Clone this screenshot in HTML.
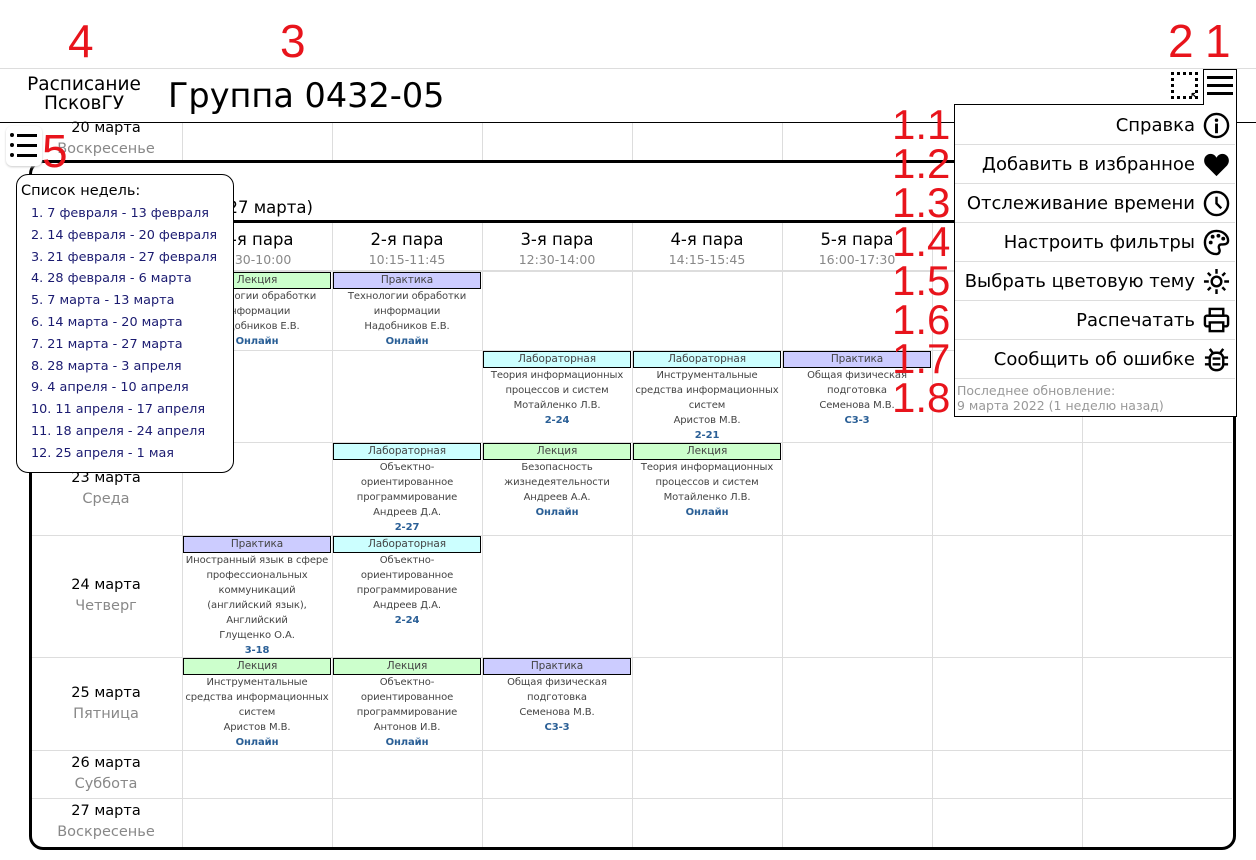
<!DOCTYPE html>
<html><head><meta charset="utf-8"><style>
*{margin:0;padding:0;box-sizing:border-box}
body{width:1256px;height:860px;overflow:hidden;background:#fff;font-family:"DejaVu Sans","Liberation Sans",sans-serif;position:relative;color:#000}
.a{position:absolute}
.red{position:absolute;color:#e8141c;font-size:46px;line-height:1;font-family:"Liberation Sans",sans-serif}
.vl{position:absolute;width:1px;background:#ddd}
.hl{position:absolute;height:1px;background:#ddd}
.cell{position:absolute;width:150px;text-align:center;font-size:10px;line-height:15px;color:#444;letter-spacing:-0.1px;white-space:nowrap}
.lab{height:17px;border:1px solid #000;font-size:10.5px;line-height:15px;color:#444;margin:0 1px 0 1px}
.lec{background:#ccffcc}.lb{background:#ccffff}.pr{background:#ccccff}
.b{color:#2a5f96;font-weight:bold}
.day{position:absolute;left:30px;width:152px;text-align:center;font-size:14.5px;line-height:21px}
.day i{font-style:normal;color:#888}
.ph{position:absolute;width:150px;text-align:center;font-size:16.5px;line-height:22px}
.ph span{display:block;font-size:12.5px;color:#888;line-height:18px}
.mi{position:absolute;left:955px;width:280px;height:39px;border-bottom:1px solid #ddd;font-size:18px;text-align:right;padding-right:40px;line-height:39px}
.ic{position:absolute;right:5px;top:6px;width:27px;height:27px}
.wk{font-size:12.8px;color:#1a1a70;line-height:21.8px;padding-left:10px}
</style></head><body>

<div class="a" style="left:0;top:68px;width:1256px;height:1px;background:#ddd"></div>
<div class="a" style="left:0;top:122px;width:1256px;height:1px;background:#000"></div>
<div class="a" style="left:10px;top:75px;width:148px;text-align:center;font-size:18.5px;line-height:19px">Расписание<br>ПсковГУ</div>
<div class="a" style="left:168px;top:74px;font-size:33.5px;line-height:44px">Группа 0432-05</div>

<div class="a" style="left:1171px;top:72px;width:27px;height:27px;border:3px dotted #000"></div>
<div class="a" style="left:1190px;top:90px;font-size:11px;font-weight:bold">↖</div>
<div class="a" style="left:1203px;top:69px;width:34px;height:36px;border:1px solid #000;border-bottom:none;background:#fff"></div>
<div class="a" style="left:1207px;top:76px;width:26px;height:3px;background:#000"></div>
<div class="a" style="left:1207px;top:84px;width:26px;height:3px;background:#000"></div>
<div class="a" style="left:1207px;top:92px;width:26px;height:3px;background:#000"></div>

<div class="day" style="top:118px">20 марта<br><i>Воскресенье</i></div>
<div class="vl" style="left:182px;top:123px;height:39px"></div>
<div class="vl" style="left:332px;top:123px;height:39px"></div>
<div class="vl" style="left:482px;top:123px;height:39px"></div>
<div class="vl" style="left:632px;top:123px;height:39px"></div>
<div class="vl" style="left:782px;top:123px;height:39px"></div>

<div class="a" style="left:29px;top:160px;width:1207px;height:690px;border:3px solid #000;border-radius:14px"></div>
<div class="a" style="left:40px;top:196px;font-size:16.5px;line-height:24px">Неделя 7 (21 марта - 27 марта)</div>
<div class="a" style="left:30px;top:220px;width:1204px;height:3px;background:#000"></div>

<div class="vl" style="left:182px;top:223px;height:624px"></div>
<div class="vl" style="left:332px;top:223px;height:624px"></div>
<div class="vl" style="left:482px;top:223px;height:624px"></div>
<div class="vl" style="left:632px;top:223px;height:624px"></div>
<div class="vl" style="left:782px;top:223px;height:624px"></div>
<div class="vl" style="left:932px;top:223px;height:624px"></div>
<div class="vl" style="left:1082px;top:223px;height:624px"></div>
<div class="hl" style="left:32px;top:270px;width:1200px;height:2px"></div>
<div class="hl" style="left:32px;top:350px;width:1200px"></div>
<div class="hl" style="left:32px;top:442px;width:1200px"></div>
<div class="hl" style="left:32px;top:535px;width:1200px"></div>
<div class="hl" style="left:32px;top:657px;width:1200px"></div>
<div class="hl" style="left:32px;top:750px;width:1200px"></div>
<div class="hl" style="left:32px;top:798px;width:1200px"></div>

<div class="ph" style="left:182px;top:229px">1-я пара<span>8:30-10:00</span></div>
<div class="ph" style="left:332px;top:229px">2-я пара<span>10:15-11:45</span></div>
<div class="ph" style="left:482px;top:229px">3-я пара<span>12:30-14:00</span></div>
<div class="ph" style="left:632px;top:229px">4-я пара<span>14:15-15:45</span></div>
<div class="ph" style="left:782px;top:229px">5-я пара<span>16:00-17:30</span></div>

<div class="day" style="top:289px">21 марта<br><i>Понедельник</i></div>
<div class="day" style="top:375px">22 марта<br><i>Вторник</i></div>
<div class="day" style="top:468px">23 марта<br><i>Среда</i></div>
<div class="day" style="top:575px">24 марта<br><i>Четверг</i></div>
<div class="day" style="top:683px">25 марта<br><i>Пятница</i></div>
<div class="day" style="top:753px">26 марта<br><i>Суббота</i></div>
<div class="day" style="top:801px">27 марта<br><i>Воскресенье</i></div>

<div class="cell" style="left:182px;top:272px"><div class="lab lec">Лекция</div>Технологии обработки<br>информации<br>Надобников Е.В.<br><span class="b">Онлайн</span></div>
<div class="cell" style="left:332px;top:272px"><div class="lab pr">Практика</div>Технологии обработки<br>информации<br>Надобников Е.В.<br><span class="b">Онлайн</span></div>

<div class="cell" style="left:482px;top:351px"><div class="lab lb">Лабораторная</div>Теория информационных<br>процессов и систем<br>Мотайленко Л.В.<br><span class="b">2-24</span></div>
<div class="cell" style="left:632px;top:351px"><div class="lab lb">Лабораторная</div>Инструментальные<br>средства информационных<br>систем<br>Аристов М.В.<br><span class="b">2-21</span></div>
<div class="cell" style="left:782px;top:351px"><div class="lab pr">Практика</div>Общая физическая<br>подготовка<br>Семенова М.В.<br><span class="b">С3-3</span></div>

<div class="cell" style="left:332px;top:443px"><div class="lab lb">Лабораторная</div>Объектно-<br>ориентированное<br>программирование<br>Андреев Д.А.<br><span class="b">2-27</span></div>
<div class="cell" style="left:482px;top:443px"><div class="lab lec">Лекция</div>Безопасность<br>жизнедеятельности<br>Андреев А.А.<br><span class="b">Онлайн</span></div>
<div class="cell" style="left:632px;top:443px"><div class="lab lec">Лекция</div>Теория информационных<br>процессов и систем<br>Мотайленко Л.В.<br><span class="b">Онлайн</span></div>

<div class="cell" style="left:182px;top:536px"><div class="lab pr">Практика</div>Иностранный язык в сфере<br>профессиональных<br>коммуникаций<br>(английский язык),<br>Английский<br>Глущенко О.А.<br><span class="b">3-18</span></div>
<div class="cell" style="left:332px;top:536px"><div class="lab lb">Лабораторная</div>Объектно-<br>ориентированное<br>программирование<br>Андреев Д.А.<br><span class="b">2-24</span></div>

<div class="cell" style="left:182px;top:658px"><div class="lab lec">Лекция</div>Инструментальные<br>средства информационных<br>систем<br>Аристов М.В.<br><span class="b">Онлайн</span></div>
<div class="cell" style="left:332px;top:658px"><div class="lab lec">Лекция</div>Объектно-<br>ориентированное<br>программирование<br>Антонов И.В.<br><span class="b">Онлайн</span></div>
<div class="cell" style="left:482px;top:658px"><div class="lab pr">Практика</div>Общая физическая<br>подготовка<br>Семенова М.В.<br><span class="b">С3-3</span></div>

<div class="a" style="left:6px;top:126px;width:36px;height:40px;background:#fff;border-radius:6px;box-shadow:0 1px 2px #ccc"></div>
<div class="a" style="left:10px;top:133px;width:4px;height:4px;border-radius:2px;background:#000"></div>
<div class="a" style="left:10px;top:143px;width:4px;height:4px;border-radius:2px;background:#000"></div>
<div class="a" style="left:10px;top:153px;width:4px;height:4px;border-radius:2px;background:#000"></div>
<div class="a" style="left:17px;top:134px;width:20px;height:3px;background:#000"></div>
<div class="a" style="left:17px;top:144px;width:20px;height:3px;background:#000"></div>
<div class="a" style="left:17px;top:154px;width:20px;height:3px;background:#000"></div>

<div class="a" style="left:16px;top:174px;width:218px;height:299px;border:1px solid #000;border-radius:12px;background:#fff;padding:6px 0 0 4px">
<div style="font-size:14.5px;line-height:20px;margin-bottom:2px">Список недель:</div>
<div class="wk">1. 7 февраля - 13 февраля</div>
<div class="wk">2. 14 февраля - 20 февраля</div>
<div class="wk">3. 21 февраля - 27 февраля</div>
<div class="wk">4. 28 февраля - 6 марта</div>
<div class="wk">5. 7 марта - 13 марта</div>
<div class="wk">6. 14 марта - 20 марта</div>
<div class="wk">7. 21 марта - 27 марта</div>
<div class="wk">8. 28 марта - 3 апреля</div>
<div class="wk">9. 4 апреля - 10 апреля</div>
<div class="wk">10. 11 апреля - 17 апреля</div>
<div class="wk">11. 18 апреля - 24 апреля</div>
<div class="wk">12. 25 апреля - 1 мая</div>
</div>

<div class="a" style="left:954px;top:104px;width:283px;height:313px;border:1px solid #000;background:#fff"></div>
<div class="a" style="left:1204px;top:104px;width:32px;height:2px;background:#fff"></div>
<div class="mi" style="top:106px">Справка<svg class="ic" viewBox="0 0 28 28"><circle cx="14" cy="14" r="12" fill="none" stroke="#000" stroke-width="2.5"/><circle cx="14" cy="8.5" r="1.8"/><rect x="12.5" y="12" width="3" height="10"/></svg></div>
<div class="mi" style="top:145px">Добавить в избранное<svg class="ic" viewBox="0 0 28 28"><path d="M14 26 L3 15 C-1 10 2 3 8 3 C11 3 13 5 14 7 C15 5 17 3 20 3 C26 3 29 10 25 15 Z"/></svg></div>
<div class="mi" style="top:184px">Отслеживание времени<svg class="ic" viewBox="0 0 28 28"><circle cx="14" cy="14" r="12" fill="none" stroke="#000" stroke-width="2.5"/><path d="M14 7 V14 L19 19" fill="none" stroke="#000" stroke-width="2.5"/></svg></div>
<div class="mi" style="top:223px">Настроить фильтры<svg class="ic" viewBox="0 0 28 28"><path d="M14 2 C21 2 26 7 26 12 C26 16 22 16 19 16 C16 16 16 19 17 21 C18 24 16 26 14 26 C7 26 2 21 2 14 C2 7 7 2 14 2 Z" fill="none" stroke="#000" stroke-width="2.5"/><circle cx="8" cy="14" r="2"/><circle cx="10" cy="8" r="2"/><circle cx="16" cy="7" r="2"/><circle cx="21" cy="10" r="2"/></svg></div>
<div class="mi" style="top:262px">Выбрать цветовую тему<svg class="ic" viewBox="0 0 28 28"><circle cx="14" cy="14" r="5" fill="none" stroke="#000" stroke-width="2.5"/><path d="M14 1V6M14 22V27M1 14H6M22 14H27M5 5L8 8M20 20L23 23M5 23L8 20M20 8L23 5" stroke="#000" stroke-width="2.5"/></svg></div>
<div class="mi" style="top:301px">Распечатать<svg class="ic" viewBox="0 0 28 28"><rect x="7" y="2" width="14" height="7" fill="none" stroke="#000" stroke-width="2.5"/><rect x="2" y="9" width="24" height="11" rx="2" fill="none" stroke="#000" stroke-width="2.5"/><rect x="7" y="16" width="14" height="9" fill="#fff" stroke="#000" stroke-width="2.5"/></svg></div>
<div class="mi" style="top:340px">Сообщить об ошибке<svg class="ic" viewBox="0 0 28 28"><rect x="7" y="7" width="14" height="18" rx="6" fill="none" stroke="#000" stroke-width="2.5"/><path d="M7 3L10 7M21 3L18 7M2 12H7M21 12H26M2 19H7M21 19H26M10 13H18M10 19H18" stroke="#000" stroke-width="2.5"/></svg></div>
<div class="a" style="left:957px;top:383px;font-size:12.5px;line-height:15px;color:#999">Последнее обновление:<br>9 марта 2022 (1 неделю назад)</div>

<div class="red" style="left:68px;top:18px">4</div>
<div class="red" style="left:280px;top:18px">3</div>
<div class="red" style="left:1168px;top:18px">2</div>
<div class="red" style="left:1205px;top:18px">1</div>
<div class="red" style="left:42px;top:128px">5</div>
<div class="red" style="left:892px;top:104px;font-size:42px">1.1</div>
<div class="red" style="left:892px;top:143px;font-size:42px">1.2</div>
<div class="red" style="left:892px;top:182px;font-size:42px">1.3</div>
<div class="red" style="left:892px;top:221px;font-size:42px">1.4</div>
<div class="red" style="left:892px;top:260px;font-size:42px">1.5</div>
<div class="red" style="left:892px;top:299px;font-size:42px">1.6</div>
<div class="red" style="left:892px;top:338px;font-size:42px">1.7</div>
<div class="red" style="left:892px;top:377px;font-size:42px">1.8</div>
</body></html>
